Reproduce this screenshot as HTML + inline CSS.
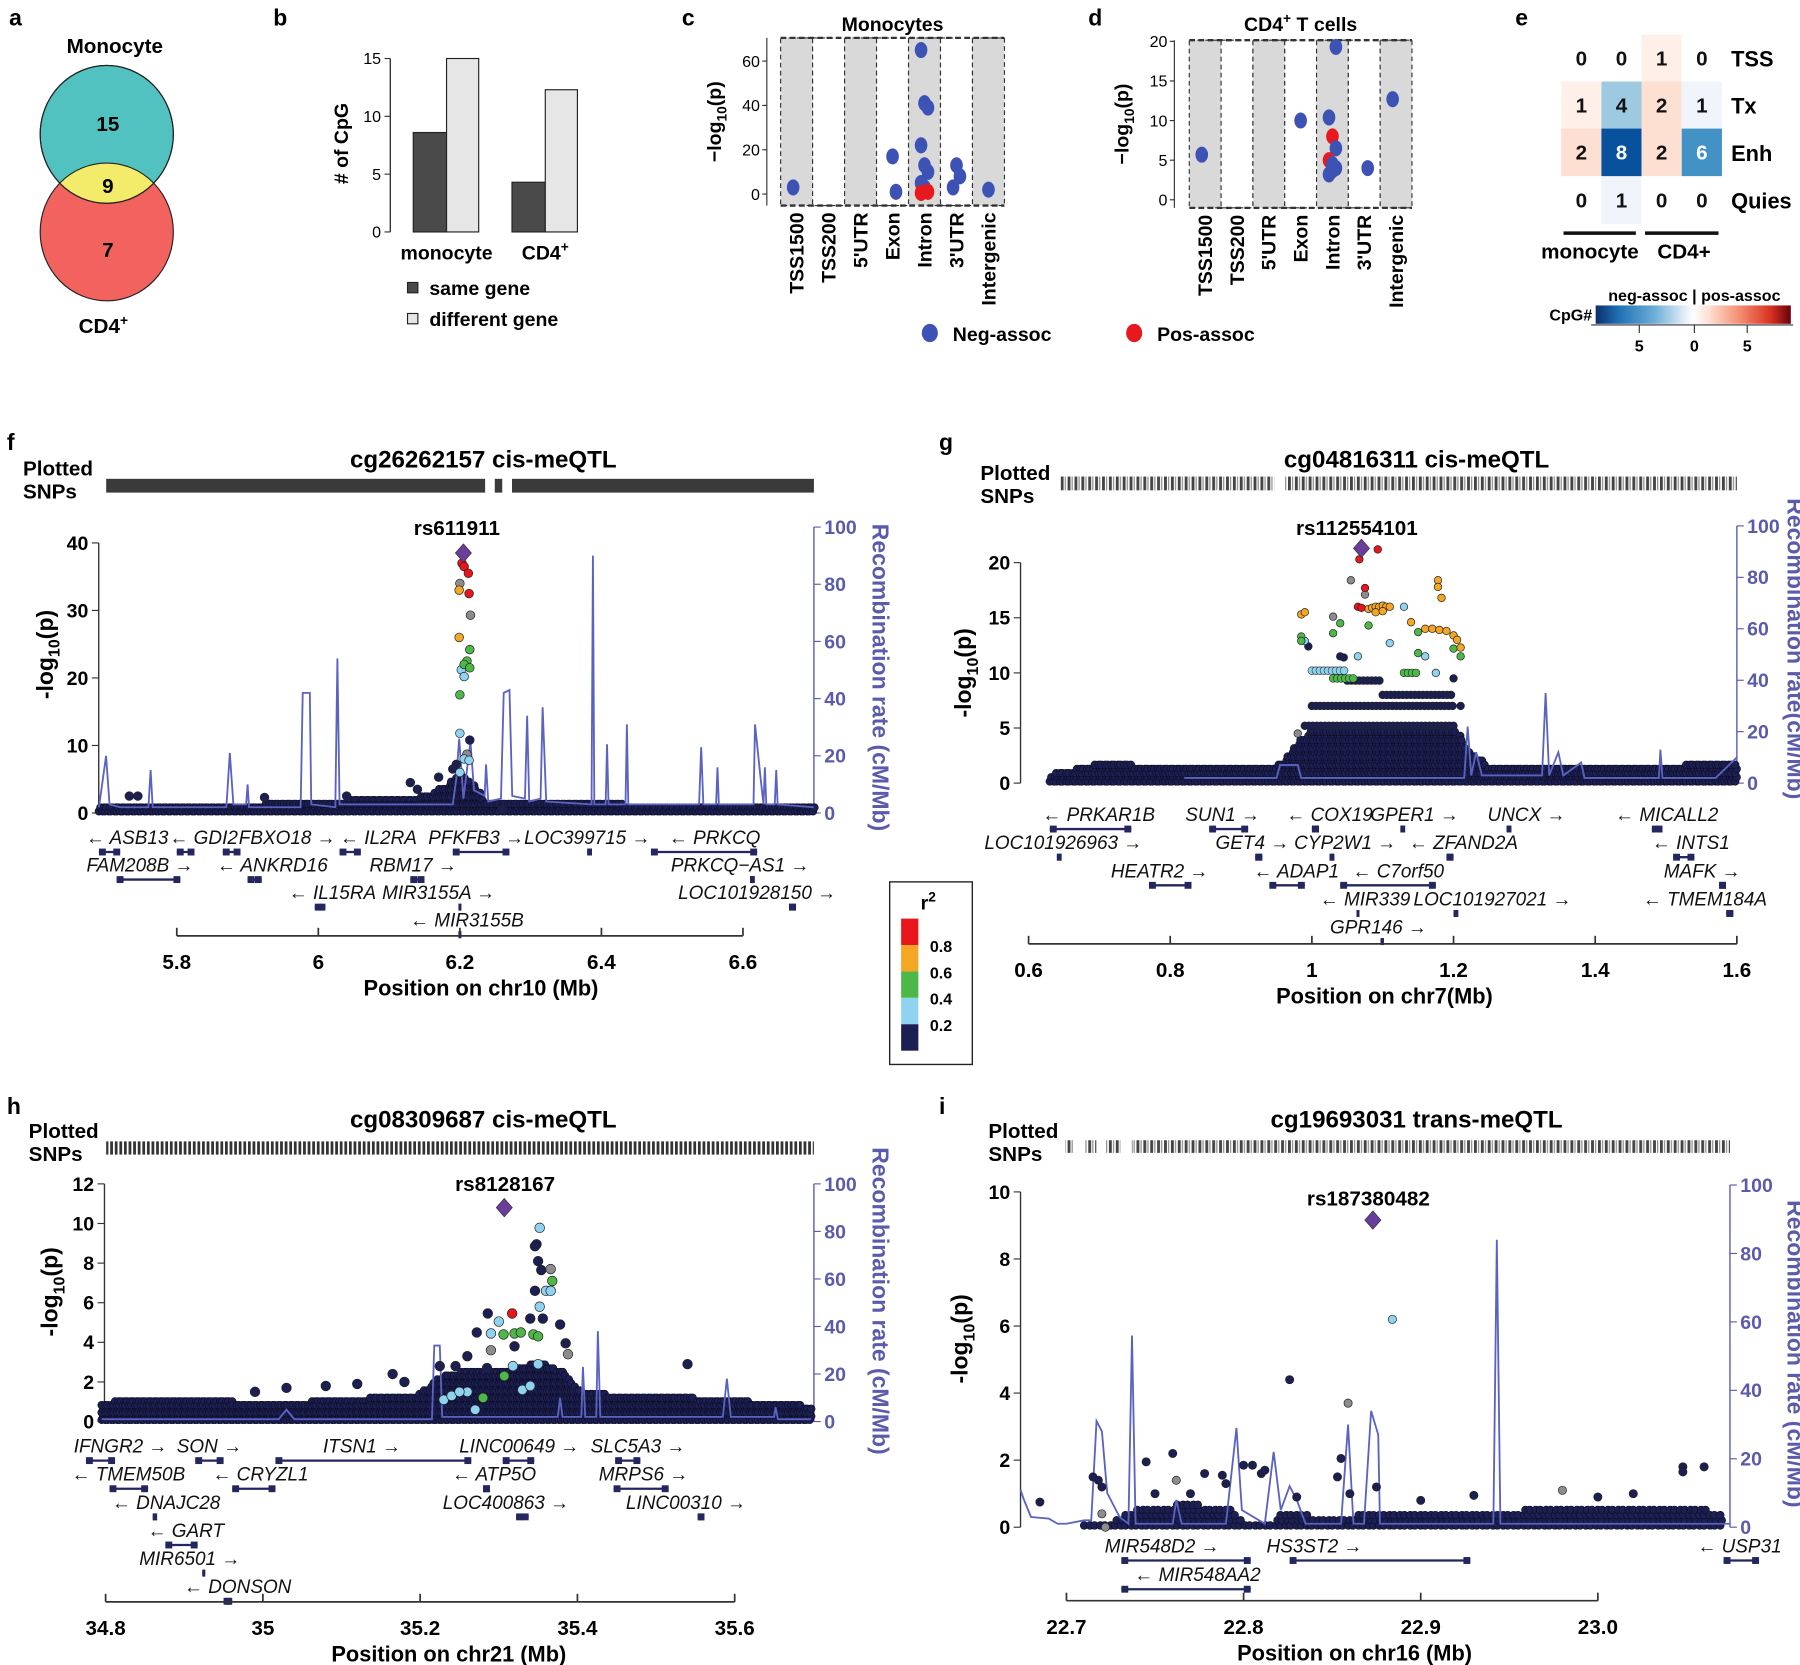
<!DOCTYPE html>
<html><head><meta charset="utf-8">
<style>
html,body{margin:0;padding:0;background:#fff;}
svg{display:block;font-family:"Liberation Sans",Arial,sans-serif;}
</style></head>
<body>
<svg id="fig" xmlns="http://www.w3.org/2000/svg" width="1800" height="1665" viewBox="0 0 1568 1450" preserveAspectRatio="none">
<defs>
<pattern id="snpPat" width="4" height="20" patternUnits="userSpaceOnUse"><rect x="0" y="0" width="2.4" height="20" fill="#333"/></pattern>
<pattern id="snpPat2" width="6" height="20" patternUnits="userSpaceOnUse"><rect x="0" y="0" width="2.5" height="20" fill="#444"/><rect x="3.5" y="0" width="1" height="20" fill="#888"/></pattern>
<linearGradient id="cbar" x1="0" x2="1" y1="0" y2="0">
<stop offset="0" stop-color="#08306b"/><stop offset="0.12" stop-color="#2171b5"/><stop offset="0.3" stop-color="#6baed6"/><stop offset="0.45" stop-color="#deebf7"/><stop offset="0.5" stop-color="#ffffff"/><stop offset="0.58" stop-color="#fde0d2"/><stop offset="0.75" stop-color="#f4866a"/><stop offset="0.9" stop-color="#d7301f"/><stop offset="1" stop-color="#67000d"/>
</linearGradient>
<clipPath id="tealClip"><ellipse cx="93" cy="117" rx="58" ry="60"/></clipPath>
</defs>

<text font-weight="bold" x="8" y="22" font-size="20">a</text>
<text font-weight="bold" x="238" y="22" font-size="20">b</text>
<text font-weight="bold" x="594" y="22" font-size="20">c</text>
<text font-weight="bold" x="948" y="22" font-size="20">d</text>
<text font-weight="bold" x="1320" y="22" font-size="20">e</text>
<text font-weight="bold" x="6" y="392" font-size="20">f</text>
<text font-weight="bold" x="818" y="392" font-size="20">g</text>
<text font-weight="bold" x="6" y="970" font-size="20">h</text>
<text font-weight="bold" x="818" y="970" font-size="20">i</text>

<g>
<text font-weight="bold" x="100" y="46" font-size="18" text-anchor="middle">Monocyte</text>
<ellipse cx="93" cy="202" rx="58" ry="60" fill="#f2625e" stroke="#222" stroke-width="1"/>
<ellipse cx="93" cy="117" rx="58" ry="60" fill="#52c2c0" stroke="#222" stroke-width="1"/>
<ellipse cx="93" cy="202" rx="58" ry="60" fill="#f3ec6a" stroke="#222" stroke-width="1" clip-path="url(#tealClip)"/>
<ellipse cx="93" cy="117" rx="58" ry="60" fill="none" stroke="#222" stroke-width="1"/>
<text font-weight="bold" x="94" y="114" font-size="18" text-anchor="middle">15</text>
<text font-weight="bold" x="94" y="168" font-size="18" text-anchor="middle">9</text>
<text font-weight="bold" x="94" y="224" font-size="18" text-anchor="middle">7</text>
<text font-weight="bold" x="90" y="290" font-size="18" text-anchor="middle">CD4<tspan dy="-7" font-size="12">+</tspan></text>
</g>

<g id="panelB"></g>
<g id="panelC"></g>
<g id="panelD"></g>
<g id="panelE"></g>

<g>
<ellipse cx="810" cy="290" rx="7" ry="8" fill="#3d52b5"/>
<text font-weight="bold" x="830" y="297" font-size="17">Neg-assoc</text>
<ellipse cx="988" cy="290" rx="7" ry="8" fill="#e8191e"/>
<text font-weight="bold" x="1008" y="297" font-size="17">Pos-assoc</text>
</g>

<g>
<rect x="775" y="768" width="72" height="159" fill="#fff" stroke="#222" stroke-width="1.2"/>
<text font-weight="bold" x="802" y="792" font-size="17">r<tspan dy="-7" font-size="12">2</tspan></text>
<rect x="785" y="800" width="15" height="23" fill="#e8161b"/>
<rect x="785" y="823" width="15" height="23" fill="#f5a623"/>
<rect x="785" y="846" width="15" height="23" fill="#4db848"/>
<rect x="785" y="869" width="15" height="23" fill="#8fd3f0"/>
<rect x="785" y="892" width="15" height="23" fill="#1c1f52"/>
<text font-weight="bold" x="810" y="829" font-size="14">0.8</text>
<text font-weight="bold" x="810" y="852" font-size="14">0.6</text>
<text font-weight="bold" x="810" y="875" font-size="14">0.4</text>
<text font-weight="bold" x="810" y="898" font-size="14">0.2</text>
</g>

<g id="panelF"></g>
<g id="panelG"></g>
<g id="panelH"></g>
<g id="panelI"></g>
</svg>

<script>
// ---------- Panel b data ----------
const bGroups = ["monocyte", "CD4+"];
const bSame = [8.6, 4.3];
const bDiff = [15, 12.3];
const bTicks = [0, 5, 10, 15];

// ---------- Panel c/d data ----------
const regionCats = ["TSS1500", "TSS200", "5'UTR", "Exon", "Intron", "3'UTR", "Intergenic"];
const cCat = [0, 3, 3, 4, 4, 4, 4, 4, 4, 4, 4, 4, 4, 5, 5, 5, 6];
const cVal = [3, 17, 1, 65, 41, 39, 22, 13, 10, 5, 3, 1, 0.5, 13, 8, 3, 2];
const cSign = ["n","n","n","n","n","n","n","n","n","n","n","p","p","n","n","n","n"];
const cTicks = [0, 20, 40, 60];
const dCat = [0, 3, 4, 4, 4, 4, 4, 4, 4, 4, 4, 5, 6];
const dVal = [5.7, 10, 19.3, 10.4, 8, 6.5, 5, 4.5, 4, 3.2, 3.7, 4, 12.7];
const dSign = ["n","n","n","n","p","n","p","n","n","n","n","n","n"];
const dTicks = [0, 5, 10, 15, 20];

// ---------- Panel e data ----------
const eRows = ["TSS", "Tx", "Enh", "Quies"];
const eCols = ["mono-pos", "mono-neg", "cd4-pos", "cd4-neg"];
const eSigns = [1, -1, 1, -1];
const eVals = [[0,0,1,0],[1,4,2,1],[2,8,2,6],[0,1,0,0]];

// ---------- Panel f data ----------
const F_lead = [6.205, 38.5];
const F_pos = [6.203,6.206,6.212,6.2,6.199,6.213,6.215,6.199,6.214,6.21,6.206,6.202,6.214,6.206,6.2,6.2,6.214,6.21,6.206,6.213,6.195,6.19,6.2,5.733,5.745,5.924,6.13,6.17,6.14,6.04,6.26];
const F_val = [37,36.5,35.5,34,33,32.5,29.3,26,24.2,22.5,22,21.2,21.5,20.2,17.5,11.8,10.8,8.7,8,7.8,7.2,6.5,6,2.5,2.5,2.3,4.5,5.3,3.5,2.5,0.5];
const F_r2 = ["r","r","r","x","o","r","x","o","g","g","g","l","g","l","g","l","n","x","l","l","n","n","l","n","n","n","n","n","n","n","n"];
const F_cloudPos = [5.69,5.8,5.9,6.0,6.1,6.15,6.18,6.2,6.22,6.235,6.3,6.5,6.7];
const F_cloudVal = [1.2,1.0,1.2,1.8,2.0,2.5,4,6,4,1.5,1.6,1.2,1.0];
const F_recPos = [5.69,5.70,5.705,5.72,5.76,5.763,5.766,5.87,5.875,5.88,5.898,5.9,5.902,5.975,5.978,5.988,5.99,6.024,6.027,6.03,6.19,6.195,6.199,6.205,6.215,6.22,6.235,6.237,6.24,6.258,6.262,6.27,6.274,6.292,6.295,6.298,6.314,6.317,6.322,6.386,6.388,6.39,6.406,6.408,6.41,6.434,6.436,6.438,6.538,6.541,6.544,6.562,6.564,6.566,6.615,6.617,6.625,6.629,6.631,6.633,6.645,6.647,6.649,6.7];
const F_recRate = [2,20,3,2,2,15,2,2,21,3,3,10,2,2,42,42,3,2,54,3,3,12,26,5,25,8,6,17,4,5,42,43,6,5,34,4,5,37,4,3,90,3,3,24,3,3,31,3,3,23,3,3,16,3,3,31,12,3,16,3,3,15,3,2];
const F_genes = ["ASB13","GDI2","FBXO18","IL2RA","PFKFB3","LOC399715","PRKCQ","FAM208B","ANKRD16","RBM17","PRKCQ−AS1","IL15RA","MIR3155A","LOC101928150","MIR3155B"];
const F_gStart = [5.69,5.8,5.865,6.03,6.19,6.38,6.47,5.715,5.9,6.13,6.61,5.995,6.198,6.665,6.198];
const F_gEnd = [5.72,5.825,5.89,6.06,6.27,6.385,6.62,5.805,5.92,6.15,6.615,6.01,6.2,6.675,6.2];
const F_gRow = [0,0,0,0,0,0,0,1,1,1,1,2,2,2,3];
const F_gStrand = ["-","-","+","-","+","+","-","+","-","+","+","-","+","+","-"];
const F_gLabel = [5.73,5.838,5.956,6.085,6.223,6.38,6.56,5.748,5.935,6.134,6.596,6.02,6.17,6.62,6.21];
const F_xTicks = [5.8, 6, 6.2, 6.4, 6.6];
const F_yTicks = [0, 10, 20, 30, 40];

// ---------- Panel g data ----------
const G_lead = [1.07, 21.3];
const G_pos = [1.093,1.067,1.075,1.055,1.075,1.065,1.07,1.08,1.085,1.09,1.095,1.1,1.105,1.11,1.09,1.1,0.985,0.99,1.178,1.178,1.183,1.14,1.16,1.17,1.18,1.19,1.2,1.205,1.21,0.985,0.985,1.03,1.04,1.08,1.15,1.15,1.2,1.21,0.99,1.065,1.11,1.13,1.16,1.175,1.03,0.98,0.995,1.2,1.21,1.045,1.04];
const G_val = [21.2,20.3,17.7,18.4,17.1,16,15.9,15.8,15.9,16,16,16.1,16,16,15.5,15.6,15.3,15.5,18.4,17.8,16.8,14.6,14,14,13.9,13.8,13.4,13,12.3,13.3,12.9,13.6,14.5,14.3,13.7,11.8,12.2,11.5,12.9,11.5,12.7,16,11.5,10,15.1,4.5,12.4,9.5,7,11.4,11.5];
const G_r2 = ["r","r","r","x","x","r","r","o","o","o","o","o","o","o","o","o","o","o","o","o","o","o","o","o","o","o","o","o","o","g","g","g","g","g","g","g","g","g","l","l","l","l","l","l","x","x","n","n","n","n","n"];
const G_stripeStart = [0.99,1.0,1.1,1.05,1.0,1.03,1.13];
const G_stripeEnd = [1.2,1.2,1.2,1.1,1.05,1.06,1.15];
const G_stripeVal = [5.2,7,8,9.3,10.2,9.5,10];
const G_stripeR2 = ["n","n","n","n","l","g","g"];
const G_cloudPos = [0.63,0.7,0.8,0.95,0.97,1.0,1.1,1.2,1.22,1.25,1.4,1.5,1.6];
const G_cloudVal = [0.8,1.8,1.5,1.5,3,5,5,5,3,1.5,1.5,1.6,1.8];
const G_recPos = [0.82,0.95,0.955,0.98,0.985,1.215,1.22,1.225,1.232,1.24,1.325,1.33,1.335,1.348,1.355,1.38,1.385,1.49,1.492,1.495,1.57,1.6];
const G_recRate = [2,2,7,7,2,2,22,3,12,3,3,35,3,12,3,8,2,2,13,2,2,10];
const G_genes = ["PRKAR1B","SUN1","COX19","GPER1","UNCX","MICALL2","LOC101926963","GET4","CYP2W1","ZFAND2A","INTS1","HEATR2","ADAP1","C7orf50","MAFK","MIR339","LOC101927021","TMEM184A","GPR146"];
const G_gStart = [0.63,0.855,1.0,1.125,1.275,1.48,0.64,0.92,1.025,1.19,1.51,0.77,0.94,1.04,1.575,1.063,1.2,1.585,1.097];
const G_gEnd = [0.745,0.91,1.01,1.13,1.28,1.495,0.645,0.93,1.03,1.2,1.54,0.83,0.99,1.175,1.583,1.064,1.205,1.595,1.1];
const G_gRow = [0,0,0,0,0,0,1,1,1,1,1,2,2,2,2,3,3,3,4];
const G_gStrand = ["-","+","-","+","+","-","+","+","+","-","-","+","-","-","+","-","+","-","+"];
const G_gLabel = [0.699,0.874,1.025,1.145,1.303,1.501,0.649,0.916,1.047,1.214,1.535,0.785,0.978,1.122,1.551,1.075,1.255,1.555,1.094];
const G_xTicks = [0.6, 0.8, 1, 1.2, 1.4, 1.6];
const G_yTicks = [0, 5, 10, 15, 20];

// ---------- Panel h data ----------
const H_lead = [35.307, 10.8];
const H_pos = [35.317,35.352,35.348,35.346,35.35,35.354,35.366,35.368,35.36,35.366,35.352,35.378,35.385,35.388,35.29,35.306,35.32,35.328,35.344,35.35,35.286,35.3,35.34,35.356,35.346,35.285,35.26,35.272,35.307,35.35,35.29,35.26,35.28,35.27,35.23,35.24,35.25,35.33,35.34,35.318,35.54,35.165,35.12,35.08,34.99,35.03,35.225,35.18,35.245,35.32];
const H_val = [5.46,9.78,8.95,8.85,8.1,7.65,7.7,7.1,6.6,6.6,5.8,4.9,3.95,3.4,4.45,4.4,4.45,4.5,4.4,4.3,5.46,5.05,5.2,5.2,6.6,2.7,3.3,4.5,2.3,2.9,3.6,1.5,1.2,0.6,1.1,1.3,1.5,1.6,1.8,2.8,2.9,2.4,1.9,1.8,1.5,1.7,2.8,2.0,2.8,3.8];
const H_r2 = ["r","l","n","n","n","n","x","g","l","l","l","n","n","x","l","g","g","g","g","g","n","l","n","n","n","n","n","n","g","l","x","l","g","l","l","l","l","l","l","l","n","n","n","n","n","n","n","n","n","n"];
const H_cloudPos = [34.795,34.82,34.9,35.0,35.1,35.2,35.22,35.25,35.3,35.35,35.38,35.4,35.45,35.55,35.695];
const H_cloudVal = [0.9,1.1,1.2,0.9,1.1,1.4,2.2,2.5,2.5,3,2.5,1.6,1.3,1.2,0.8];
const H_recPos = [34.795,35.02,35.03,35.04,35.215,35.218,35.225,35.228,35.375,35.378,35.381,35.405,35.407,35.41,35.424,35.426,35.429,35.585,35.59,35.595,35.65,35.652,35.655,35.697];
const H_recRate = [1,1,5,1,1,32,32,2,2,10,2,2,23,2,2,38,2,2,18,2,2,6,1,1];
const H_genes = ["IFNGR2","SON","ITSN1","LINC00649","SLC5A3","TMEM50B","CRYZL1","ATP5O","MRPS6","DNAJC28","LOC400863","LINC00310","GART","MIR6501","DONSON"];
const H_gStart = [34.775,34.914,35.016,35.305,35.448,34.805,34.961,35.28,35.446,34.86,35.322,35.553,34.876,34.923,34.95];
const H_gEnd = [34.812,34.95,35.265,35.345,35.48,34.854,35.016,35.288,35.516,34.864,35.338,35.56,34.917,34.9235,34.961];
const H_gRow = [0,0,0,0,0,1,1,1,1,2,2,2,3,4,5];
const H_gStrand = ["+","+","+","+","+","-","-","-","+","-","+","+","-","+","-"];
const H_gLabel = [34.819,34.932,35.126,35.326,35.477,34.829,34.997,35.294,35.484,34.877,35.309,35.538,34.902,34.907,34.968];
const H_xTicks = [34.8, 35, 35.2, 35.4, 35.6];
const H_yTicks = [0, 2, 4, 6, 8, 10, 12];

// ---------- Panel i data ----------
const I_lead = [22.873, 9.16];
const I_pos = [22.884,22.826,22.859,22.685,22.715,22.718,22.72,22.745,22.76,22.762,22.778,22.788,22.8,22.805,22.81,22.812,22.855,22.853,22.875,22.93,23.048,23.06,23.048,22.72,22.722,22.77,22.75,22.79,22.86,22.83,22.9,22.98,23.0,23.02];
const I_val = [6.2,4.4,3.7,0.75,1.5,1.4,1.2,1.95,2.2,1.4,1.6,1.55,1.85,1.85,1.6,1.7,2.05,1.5,1.2,0.95,1.8,1.8,1.65,0.4,0.0,1.0,1.0,1.3,1.0,0.9,0.8,1.1,0.9,1.0];
const I_r2 = ["l","n","x","n","n","n","n","n","n","x","n","n","n","n","n","n","n","n","n","n","n","n","n","x","x","n","n","n","n","n","n","x","n","n"];
const I_cloudPos = [22.71,22.725,22.74,22.77,22.79,22.8,22.815,22.82,22.835,22.84,22.86,22.875,22.9,22.95,23.0,23.07];
const I_cloudVal = [0.1,0.2,0.6,0.7,0.6,0.2,0.1,0.4,0.4,0.2,0.3,0.5,0.4,0.5,0.6,0.5];
const I_recPos = [22.674,22.676,22.68,22.69,22.695,22.7,22.71,22.714,22.717,22.72,22.723,22.73,22.735,22.737,22.739,22.76,22.762,22.765,22.79,22.796,22.799,22.812,22.817,22.821,22.826,22.83,22.835,22.855,22.859,22.862,22.868,22.872,22.876,22.877,22.941,22.943,22.945,23.075];
const I_recRate = [11,8,3,2.5,1,1,2,2,31,28,10,3,1,56,1,1,8,1,1,29,5,1,22,5,12,8,1,1,30,1,1,34,27,1,1,84,1,1];
const I_genes = ["MIR548D2","HS3ST2","USP31","MIR548AA2"];
const I_gStart = [22.731,22.826,23.071,22.731];
const I_gEnd = [22.804,22.928,23.091,22.804];
const I_gRow = [0,0,0,1];
const I_gStrand = ["+","+","-","-"];
const I_gLabel = [22.754,22.84,23.08,22.774];
const I_xTicks = [22.7, 22.8, 22.9, 23.0];
const I_yTicks = [0, 2, 4, 6, 8, 10];

const NS = "http://www.w3.org/2000/svg";
function mk(tag, attrs, parent, txt) {
  const e = document.createElementNS(NS, tag);
  for (const k in attrs) e.setAttribute(k, attrs[k]);
  if (txt !== undefined) e.textContent = txt;
  parent.appendChild(e);
  return e;
}
const R2COL = {r:"#e8161b", o:"#f5a623", g:"#4db848", l:"#8fd3f0", n:"#1c1f52", x:"#8c8c8c"};

// ---------- Panel b ----------
(function(){
  const g = document.getElementById("panelB");
  const y = v => 202 - v * 10.07;
  const ax = mk("line", {x1:340,x2:340,y1:y(0),y2:y(15),stroke:"#333","stroke-width":1.2}, g);
  
  
  bTicks.forEach(t => {
    mk("line", {x1:335,x2:340,y1:y(t),y2:y(t),stroke:"#333"}, g);
    const tl = mk("text", {x:332,y:y(t)+5,"font-size":14,"text-anchor":"end"}, g, t);
    
    
  });
  const lbl = mk("text", {x:0,y:0,"font-size":17,"font-weight":"bold","text-anchor":"middle",transform:"translate(303,125) rotate(-90)"}, g, "# of CpG");
  
  
  const gx = [360, 446];
  bGroups.forEach((name, i) => {
    const r1 = mk("rect", {x:gx[i],y:y(bSame[i]),width:29,height:y(0)-y(bSame[i]),fill:"#4a4a4a",stroke:"#222"}, g);
    
    
    const r2 = mk("rect", {x:gx[i]+29,y:y(bDiff[i]),width:28,height:y(0)-y(bDiff[i]),fill:"#e6e6e6",stroke:"#222"}, g);
    
    
    const t = mk("text", {x:gx[i]+29,y:226,"font-size":17,"font-weight":"bold","text-anchor":"middle"}, g, name === "CD4+" ? "CD4" : name);
    if (name === "CD4+") mk("tspan", {dy:-7,"font-size":12}, t, "+");
    
    
  });
  mk("rect", {x:355,y:246,width:9,height:9,fill:"#4a4a4a",stroke:"#222"}, g);
  const l1 = mk("text", {x:374,y:257,"font-size":17,"font-weight":"bold"}, g, "same gene");
  
  
  mk("rect", {x:355,y:273,width:9,height:9,fill:"#e6e6e6",stroke:"#222"}, g);
  const l2 = mk("text", {x:374,y:284,"font-size":17,"font-weight":"bold"}, g, "different gene");
  
  
})();

// ---------- Panels c/d ----------
function dotPanel(gid, title, cats, vals, signs, ticks, cfg) {
  const g = document.getElementById(gid);
  const y = v => cfg.y0 - v * cfg.ppu;
  const colW = (cfg.x1 - cfg.x0) / regionCats.length;
  regionCats.forEach((c, i) => {
    const cx0 = cfg.x0 + i * colW;
    const rc = mk("rect", {x:cx0,y:cfg.top,width:colW,height:cfg.bot-cfg.top,fill:i%2===0?"#d9d9d9":"#fff",stroke:"#333","stroke-dasharray":"4,3","stroke-width":1}, g);
    
    
    const t = mk("text", {x:0,y:0,"font-size":17,"font-weight":"bold","text-anchor":"end",transform:`translate(${cx0+colW/2+6},${cfg.bot+6}) rotate(-90)`}, g, c);
    
    
  });
  mk("line", {x1:cfg.x0,x2:cfg.x1,y1:cfg.top,y2:cfg.top,stroke:"#333","stroke-width":2,"stroke-dasharray":"5,3"}, g);
  mk("line", {x1:cfg.x0,x2:cfg.x1,y1:cfg.bot,y2:cfg.bot,stroke:"#333","stroke-width":2,"stroke-dasharray":"5,3"}, g);
  const ax = mk("line", {x1:cfg.ax,x2:cfg.ax,y1:cfg.bot,y2:cfg.top,stroke:"#333"}, g);
  
  
  ticks.forEach(t => {
    mk("line", {x1:cfg.ax-4,x2:cfg.ax,y1:y(t),y2:y(t),stroke:"#333"}, g);
    const tl = mk("text", {x:cfg.ax-6,y:y(t)+5,"font-size":14,"text-anchor":"end"}, g, t);
    
    
  });
  const yl = mk("text", {x:0,y:0,"font-size":17,"font-weight":"bold","text-anchor":"middle",transform:`translate(${cfg.ax-40},${(cfg.top+cfg.bot)/2}) rotate(-90)`}, g, "−log");
  mk("tspan", {dy:5,"font-size":12}, yl, "10");
  mk("tspan", {dy:-5}, yl, "(p)");
  
  
  const tt = mk("text", {x:(cfg.x0+cfg.x1)/2,y:27,"font-size":17,"font-weight":"bold","text-anchor":"middle"}, g, title);
  if (cfg.sup) { mk("tspan", {dy:-7,"font-size":12}, tt, "+"); mk("tspan", {dy:7}, tt, " T cells"); }
  
  
  vals.forEach((v, i) => {
    const cx = cfg.x0 + (cats[i] + 0.5) * colW + ((i % 3) - 1) * 3;
    const p = mk("ellipse", {cx:cx,cy:y(v),rx:5.5,ry:7,fill:signs[i]==="p"?"#e8191e":"#3d52b5"}, g);
    
    
  });
}
dotPanel("panelC", "Monocytes", cCat, cVal, cSign, cTicks, {x0:680,x1:875,top:33,bot:179,ax:668,y0:169,ppu:1.93});
dotPanel("panelD", "CD4", dCat, dVal, dSign, dTicks, {x0:1036,x1:1230,top:35,bot:181,ax:1023,y0:174,ppu:6.9,sup:true});

// ---------- Panel e ----------
(function(){
  const g = document.getElementById("panelE");
  const blue = [[255,255,255],[222,235,247],[158,202,225],[66,146,198],[8,81,156]];
  const red = [[255,255,255],[253,224,210],[245,196,176],[239,138,98],[178,24,43]];
  function col(v, s) {
    const st = s < 0 ? blue : red;
    const t = Math.min(v / 8, 1) * (st.length - 1);
    const i = Math.min(Math.floor(t), st.length - 2), f = t - i;
    const c = st[i].map((a, k) => Math.round(a + (st[i+1][k] - a) * f));
    return `rgb(${c.join(",")})`;
  }
  const xs = [1360, 1395, 1430, 1465], ys = [30, 71, 112, 153.5];
  eVals.forEach((row, r) => {
    row.forEach((v, c) => {
      const cell = mk("rect", {x:xs[c],y:ys[r],width:35,height:41.5,fill:col(v, eSigns[c])}, g);
      
      
      const t = mk("text", {x:xs[c]+17.5,y:ys[r]+27,"font-size":18,"font-weight":"bold","text-anchor":"middle",fill:v>=6?"#fff":"#111"}, g, v);
      
      
    });
    const rl = mk("text", {x:1508,y:ys[r]+28,"font-size":19,"font-weight":"bold"}, g, eRows[r]);
    
    
  });
  mk("line", {x1:1362,x2:1425,y1:203,y2:203,stroke:"#111","stroke-width":3}, g);
  mk("line", {x1:1433,x2:1497,y1:203,y2:203,stroke:"#111","stroke-width":3}, g);
  const m = mk("text", {x:1385,y:225,"font-size":18,"font-weight":"bold","text-anchor":"middle"}, g, "monocyte");
  
  
  const c4 = mk("text", {x:1467,y:225,"font-size":18,"font-weight":"bold","text-anchor":"middle"}, g, "CD4+");
  
  
  const cb = mk("rect", {x:1390,y:266,width:170,height:16,fill:"url(#cbar)"}, g);
  
  
  mk("line", {x1:1386,x2:1562,y1:283,y2:283,stroke:"#333"}, g);
  mk("text", {x:1387,y:279,"font-size":14,"font-weight":"bold","text-anchor":"end"}, g, "CpG#");
  mk("text", {x:1476,y:262,"font-size":14,"font-weight":"bold","text-anchor":"middle"}, g, "neg-assoc | pos-assoc");
  [[1428,"5"],[1476,"0"],[1522,"5"]].forEach(d => {
    mk("line", {x1:d[0],x2:d[0],y1:283,y2:290,stroke:"#333"}, g);
    mk("text", {x:d[0],y:306,"font-size":14,"font-weight":"bold","text-anchor":"middle"}, g, d[1]);
  });
})();

// ---------- Locus zoom panels ----------
function interp(xs, ys, x) {
  if (x <= xs[0]) return ys[0];
  for (let i = 1; i < xs.length; i++) if (x <= xs[i]) return ys[i-1] + (ys[i]-ys[i-1])*(x-xs[i-1])/(xs[i]-xs[i-1]);
  return ys[ys.length-1];
}
function locus(gid, d) {
  const g = document.getElementById(gid);
  const X = mb => d.xAt + (mb - d.mb0) * d.ppm;
  const Y = v => d.y0 - v * d.ppu;
  const R = r => d.y0 - r * d.rppu;
  const tt = mk("text", {x:d.titleX,y:d.titleY,"font-size":21,"font-weight":"bold","text-anchor":"middle"}, g, d.title);
  
  
  const ps = mk("text", {x:d.psX,y:d.psY,"font-size":18,"font-weight":"bold"}, g, "Plotted");
  
  
  mk("text", {x:d.psX,y:d.psY+20,"font-size":18,"font-weight":"bold"}, g, "SNPs");
  const bar = mk("rect", {x:d.barX0,y:d.barY,width:d.barX1-d.barX0,height:d.barH,fill:d.barFill}, g);
  
  
  (d.barGaps || []).forEach(gp => mk("rect", {x:gp[0],y:d.barY-1,width:gp[1]-gp[0],height:d.barH+2,fill:"#fff"}, g));
  const la = mk("line", {x1:d.axL,x2:d.axL,y1:Y(0),y2:Y(d.yTicks[d.yTicks.length-1]),stroke:"#333","stroke-width":1.2}, g);
  
  
  d.yTicks.forEach(t => {
    mk("line", {x1:d.axL-6,x2:d.axL,y1:Y(t),y2:Y(t),stroke:"#333"}, g);
    const tl = mk("text", {x:d.axL-9,y:Y(t)+6,"font-size":17,"font-weight":"bold","text-anchor":"end"}, g, t);
    
    
  });
  const ra = mk("line", {x1:d.axR,x2:d.axR,y1:R(0),y2:R(100),stroke:"#5b5bab","stroke-width":1.2}, g);
  
  
  [0,20,40,60,80,100].forEach(t => {
    mk("line", {x1:d.axR,x2:d.axR+6,y1:R(t),y2:R(t),stroke:"#5b5bab"}, g);
    const tl = mk("text", {x:d.axR+9,y:R(t)+6,"font-size":17,"font-weight":"bold",fill:"#5b5bab"}, g, t);
    
    
  });
  const yl = mk("text", {x:0,y:0,"font-size":20,"font-weight":"bold","text-anchor":"middle",transform:`translate(${d.ylX},${d.ylY}) rotate(-90)`}, g, "-log");
  mk("tspan", {dy:6,"font-size":14}, yl, "10");
  mk("tspan", {dy:-6}, yl, "(p)");
  
  
  const rl = mk("text", {x:0,y:0,"font-size":20,"font-weight":"bold","text-anchor":"middle",fill:"#5b5bab",transform:`translate(${d.rlX},${d.rlY}) rotate(90)`}, g, d.recLabel);
  
  
  const cg = mk("g", {}, g);
  
  
  const cx0 = X(d.cloudPos[0]), cx1 = X(d.cloudPos[d.cloudPos.length-1]);
  let col = 0;
  for (let px = cx0; px <= cx1; px += d.cStep) {
    const top = Y(interp(d.cloudPos, d.cloudVal, d.mb0 + (px - d.xAt) / d.ppm));
    let row = 0;
    for (let py = Y(0) - 1.5; py >= top; py -= d.cDy) {
      mk("circle", {cx:px + ((row % 2) ? 1.3 : 0) + ((col % 2) ? 0.6 : 0), cy:py, r:3.4, fill:"#1c1f52", stroke:"#0c0c20","stroke-width":0.5}, cg);
      row++;
    }
    col++;
  }
  (d.stripeStart || []).forEach((s, i) => {
    for (let px = X(s); px <= X(d.stripeEnd[i]); px += 3.5) {
      mk("circle", {cx:px, cy:Y(d.stripeVal[i]), r:3.4, fill:R2COL[d.stripeR2[i]], stroke:"#222","stroke-width":0.5}, cg);
    }
  });
  const pts = d.recPos.map((p, i) => `${X(p).toFixed(1)},${R(d.recRate[i]).toFixed(1)}`).join(" ");
  const rec = mk("polyline", {points:pts,fill:"none",stroke:"#5b63c0","stroke-width":1.6}, g);
  
  
  const order = d.val.map((v, i) => i).sort((a, b) => "nxlgor".indexOf(d.r2[a]) - "nxlgor".indexOf(d.r2[b]));
  order.forEach(i => {
    const c = mk("circle", {cx:X(d.pos[i]),cy:Y(d.val[i]),r:d.pr,fill:R2COL[d.r2[i]],stroke:"#222","stroke-width":0.6}, g);
    
    
  });
  const lx = X(d.lead[0]), ly = Y(d.lead[1]);
  const dm = mk("polygon", {points:`${lx},${ly-8} ${lx+7},${ly} ${lx},${ly+8} ${lx-7},${ly}`,fill:"#6a3d9a",stroke:"#333","stroke-width":0.6}, g);
  
  
  const rs = mk("text", {x:d.rsX,y:d.rsY,"font-size":18,"font-weight":"bold","text-anchor":"middle"}, g, d.rs);
  
  
  d.genes.forEach((nm, i) => {
    const ty = d.gY0 + d.gRow[i] * d.gDy;
    const x0 = X(d.gStart[i]), x1 = Math.max(X(d.gEnd[i]), X(d.gStart[i]) + 1.5);
    const gl = mk("line", {x1:x0,x2:x1,y1:ty+9,y2:ty+9,stroke:"#23265f","stroke-width":2}, g);
    
    
    mk("rect", {x:x0,y:ty+6,width:Math.min(6,x1-x0+1),height:6,fill:"#23265f"}, g);
    mk("rect", {x:Math.max(x0,x1-6),y:ty+6,width:Math.min(6,x1-x0+1),height:6,fill:"#23265f"}, g);
    const lab = d.gStrand[i] === "+" ? nm + " \u2192" : "\u2190 " + nm;
    const t = mk("text", {x:X(d.gLabel[i]),y:ty+2,"font-size":16.5,"font-style":"italic","text-anchor":"middle",fill:"#111"}, g, lab);
    
    
  });
  const xt = d.xTicks;
  const sc = mk("line", {x1:X(xt[0]),x2:X(xt[xt.length-1]),y1:d.sY,y2:d.sY,stroke:"#333","stroke-width":1.5}, g);
  
  
  xt.forEach((t, k) => {
    mk("line", {x1:X(t),x2:X(t),y1:d.sY-7,y2:d.sY,stroke:"#333","stroke-width":1.5}, g);
    const tl = mk("text", {x:X(t),y:d.sY+29,"font-size":18,"font-weight":"bold","text-anchor":"middle"}, g, d.xLabels[k]);
    
    
  });
  const xl = mk("text", {x:d.xtX,y:d.sY+52,"font-size":19,"font-weight":"bold","text-anchor":"middle"}, g, d.xTitle);
  
  
}

locus("panelF", {title:"cg26262157 cis-meQTL",titleX:421,titleY:407,psX:20,psY:414,barX0:92.5,barX1:709,barY:417,barH:12,barFill:"#3a3a3a",barGaps:[[422.6,431],[437.5,446]],
  mb0:5.8,xAt:154,ppm:616.5,y0:708,ppu:5.88,rppu:2.49,axL:86,axR:709,yTicks:F_yTicks,ylX:46,ylY:570,rlX:760,rlY:590,recLabel:"Recombination rate (cM/Mb)",
  cloudPos:F_cloudPos,cloudVal:F_cloudVal,cStep:2.6,cDy:3.2,recPos:F_recPos,recRate:F_recRate,pos:F_pos,val:F_val,r2:F_r2,pr:3.8,lead:F_lead,rs:"rs611911",rsX:398,rsY:466,
  genes:F_genes,gStart:F_gStart,gEnd:F_gEnd,gRow:F_gRow,gStrand:F_gStrand,gLabel:F_gLabel,gY0:733,gDy:24,
  xTicks:F_xTicks,xLabels:["5.8","6","6.2","6.4","6.6"],sY:815,xtX:419,xTitle:"Position on chr10 (Mb)"});

locus("panelG", {title:"cg04816311 cis-meQTL",titleX:1234,titleY:407,psX:854,psY:418,barX0:924,barX1:1513,barY:415,barH:12,barFill:"url(#snpPat2)",barGaps:[[1110,1119]],
  mb0:0.6,xAt:896,ppm:617,y0:682,ppu:9.6,rppu:2.24,axL:889,axR:1513,yTicks:G_yTicks,ylX:846,ylY:586,rlX:1557,rlY:565,recLabel:"Recombination rate(cM/Mb)",
  cloudPos:G_cloudPos,cloudVal:G_cloudVal,cStep:2.8,cDy:3.6,stripeStart:G_stripeStart,stripeEnd:G_stripeEnd,stripeVal:G_stripeVal,stripeR2:G_stripeR2,
  recPos:G_recPos,recRate:G_recRate,pos:G_pos,val:G_val,r2:G_r2,pr:3.3,lead:G_lead,rs:"rs112554101",rsX:1182,rsY:466,
  genes:G_genes,gStart:G_gStart,gEnd:G_gEnd,gRow:G_gRow,gStrand:G_gStrand,gLabel:G_gLabel,gY0:713,gDy:24.5,
  xTicks:G_xTicks,xLabels:["0.6","0.8","1","1.2","1.4","1.6"],sY:822,xtX:1206,xTitle:"Position on chr7(Mb)"});

locus("panelH", {title:"cg08309687 cis-meQTL",titleX:421,titleY:982,psX:25,psY:991,barX0:92.5,barX1:709,barY:994,barH:11.5,barFill:"url(#snpPat)",
  mb0:34.8,xAt:92,ppm:685,y0:1238,ppu:17.25,rppu:2.07,axL:91,axR:709,yTicks:H_yTicks,ylX:50,ylY:1125,rlX:760,rlY:1133,recLabel:"Recombination rate (cM/Mb)",
  cloudPos:H_cloudPos,cloudVal:H_cloudVal,cStep:2.6,cDy:3.2,recPos:H_recPos,recRate:H_recRate,pos:H_pos,val:H_val,r2:H_r2,pr:4.2,lead:H_lead,rs:"rs8128167",rsX:440,rsY:1037,
  genes:H_genes,gStart:H_gStart,gEnd:H_gEnd,gRow:H_gRow,gStrand:H_gStrand,gLabel:H_gLabel,gY0:1263,gDy:24.5,
  xTicks:H_xTicks,xLabels:["34.8","35","35.2","35.4","35.6"],sY:1395,xtX:391,xTitle:"Position on chr21 (Mb)"});

locus("panelI", {title:"cg19693031 trans-meQTL",titleX:1234,titleY:982,psX:861,psY:991,barX0:928,barX1:1507,barY:993,barH:11,barFill:"url(#snpPat2)",barGaps:[[935,945],[955,963],[976,986]],
  mb0:22.7,xAt:929,ppm:1543,y0:1330,ppu:29.2,rppu:2.98,axL:889,axR:1507,yTicks:I_yTicks,ylX:843,ylY:1166,rlX:1557,rlY:1179,recLabel:"Recombination rate (cM/Mb)",
  cloudPos:I_cloudPos,cloudVal:I_cloudVal,cStep:4.5,cDy:4.5,recPos:I_recPos,recRate:I_recRate,pos:I_pos,val:I_val,r2:I_r2,pr:3.6,lead:I_lead,rs:"rs187380482",rsX:1192,rsY:1050,
  genes:I_genes,gStart:I_gStart,gEnd:I_gEnd,gRow:I_gRow,gStrand:I_gStrand,gLabel:I_gLabel,gY0:1350,gDy:25,
  xTicks:I_xTicks,xLabels:["22.7","22.8","22.9","23.0"],sY:1394,xtX:1180,xTitle:"Position on chr16 (Mb)"});
</script>
</body></html>
